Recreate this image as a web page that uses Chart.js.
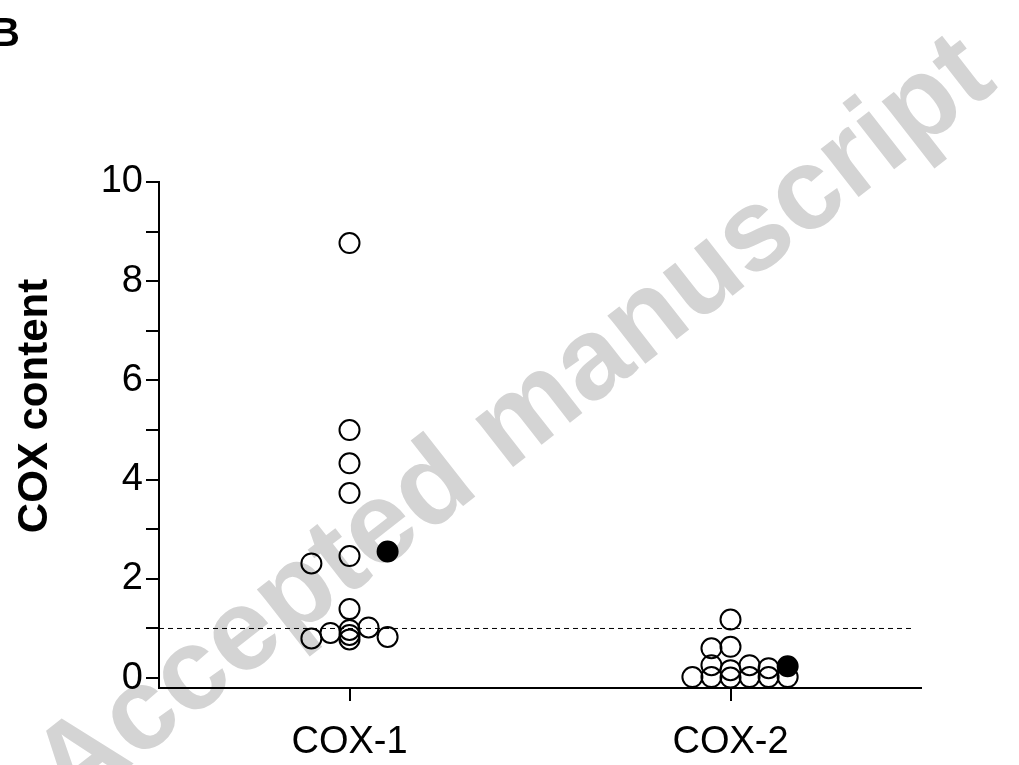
<!DOCTYPE html>
<html>
<head>
<meta charset="utf-8">
<script src="https://cdn.jsdelivr.net/npm/chart.js@4/dist/chart.umd.min.js"></script>
<style>
  html, body { margin: 0; padding: 0; background: #fff; }
  #wrap { width: 1019px; height: 765px; position: relative; }
</style>
</head>
<body>
<div id="wrap"><canvas id="chart"></canvas></div>
<script>
// Categories and where they sit on the x axis
const categories = ["COX-1", "COX-2"];
const categoryX = [1, 3];

// COX-1: open circles, with horizontal jitter (in category units)
const cox1Open = [8.77, 5.0, 4.33, 3.73, 2.46, 2.31, 1.39, 1.02, 0.97, 0.91, 0.87, 0.83, 0.80, 0.78];
const cox1OpenJitter = [0, 0, 0, 0, 0, -0.2, 0, 0.1, 0, -0.1, 0, 0.2, -0.2, 0];
const cox1Filled = [2.55];
const cox1FilledJitter = [0.2];

// COX-2
const cox2Open = [1.18, 0.63, 0.60, 0.26, 0.26, 0.20, 0.16, 0.02, 0.02, 0.01, 0.02, 0.02, 0.02];
const cox2OpenJitter = [0, 0, -0.1, -0.1, 0.1, 0.2, 0, -0.2, -0.1, 0, 0.1, 0.2, 0.3];
const cox2Filled = [0.24];
const cox2FilledJitter = [0.3];

// Axis ticks and reference line
const yTicks = [0, 1, 2, 3, 4, 5, 6, 7, 8, 9, 10];
const threshold = 1;
const thresholdEnd = 3.96;

const FONT = "'Liberation Sans', Arial, Helvetica, sans-serif";
Chart.defaults.font.family = FONT;
Chart.defaults.color = "#000";

function points(values, jitter, cat) {
  return values.map((v, i) => ({ x: categoryX[cat] + jitter[i], y: v }));
}

const openStyle = {
  pointRadius: 10, pointBorderWidth: 2, pointBorderColor: "#000",
  pointBackgroundColor: "rgba(255,255,255,0)", showLine: false, clip: false, order: 1
};
const filledStyle = {
  pointRadius: 10, pointBorderWidth: 2, pointBorderColor: "#000",
  pointBackgroundColor: "#000", showLine: false, clip: false, order: 0
};

// ---------------------------------------------------------
// Extra drawing: watermark, panel letter, y axis title
// ---------------------------------------------------------
const decorations = {
  id: "decorations",
  beforeDraw(chart) {
    const ctx = chart.ctx;
    ctx.save();
    ctx.translate(515, 425);
    ctx.rotate(-38 * Math.PI / 180);
    ctx.font = "bold 116px " + FONT;
    ctx.fillStyle = "#d4d4d4";
    ctx.textAlign = "center";
    ctx.textBaseline = "middle";
    ctx.fillText("Accepted manuscript", 0, 0);
    ctx.restore();
  },
  afterDraw(chart) {
    const ctx = chart.ctx;
    ctx.save();
    ctx.fillStyle = "#000";
    ctx.font = "bold 40px " + FONT;
    ctx.textAlign = "left";
    ctx.textBaseline = "alphabetic";
    ctx.fillText("B", -9, 46);

    ctx.translate(35, 406);
    ctx.rotate(-Math.PI / 2);
    ctx.font = "bold 42px " + FONT;
    ctx.textAlign = "center";
    ctx.textBaseline = "middle";
    ctx.fillText("COX content", 0, 0);
    ctx.restore();
  }
};

new Chart(document.getElementById("chart"), {
  type: "scatter",
  data: {
    datasets: [
      { data: points(cox1Open, cox1OpenJitter, 0), ...openStyle },
      { data: points(cox1Filled, cox1FilledJitter, 0), ...filledStyle },
      { data: points(cox2Open, cox2OpenJitter, 1), ...openStyle },
      { data: points(cox2Filled, cox2FilledJitter, 1), ...filledStyle },
      {
        type: "line",
        data: [{ x: 0, y: threshold }, { x: thresholdEnd, y: threshold }],
        borderColor: "#000", borderWidth: 1, borderDash: [5, 4],
        pointRadius: 0, fill: false, order: 5
      }
    ]
  },
  options: {
    responsive: true,
    maintainAspectRatio: false,
    animation: false,
    layout: { padding: { top: 182, right: 98, left: 0, bottom: 0 } },
    plugins: { legend: { display: false }, tooltip: { enabled: false } },
    scales: {
      x: {
        type: "linear", min: 0, max: 4,
        afterBuildTicks: s => { s.ticks = categoryX.map(v => ({ value: v })); },
        afterFit: s => { s.height = 77; },
        ticks: {
          font: { size: 38 }, padding: 19, maxRotation: 0,
          callback: v => categories[categoryX.indexOf(v)] ?? ""
        },
        grid: { drawOnChartArea: false, drawTicks: true, tickLength: 13, color: "#000", lineWidth: 2 },
        border: { color: "#000", width: 2 }
      },
      y: {
        min: -0.2, max: 10,
        afterBuildTicks: s => { s.ticks = yTicks.map(v => ({ value: v })); },
        afterFit: s => { s.width = 159; },
        ticks: {
          font: { size: 38 }, padding: 3,
          callback: v => (v % 2 === 0 ? String(v) : "")
        },
        grid: { drawOnChartArea: false, drawTicks: true, tickLength: 13, color: "#000", lineWidth: 2 },
        border: { color: "#000", width: 2 }
      }
    }
  },
  plugins: [decorations]
});
</script>
</body>
</html>
